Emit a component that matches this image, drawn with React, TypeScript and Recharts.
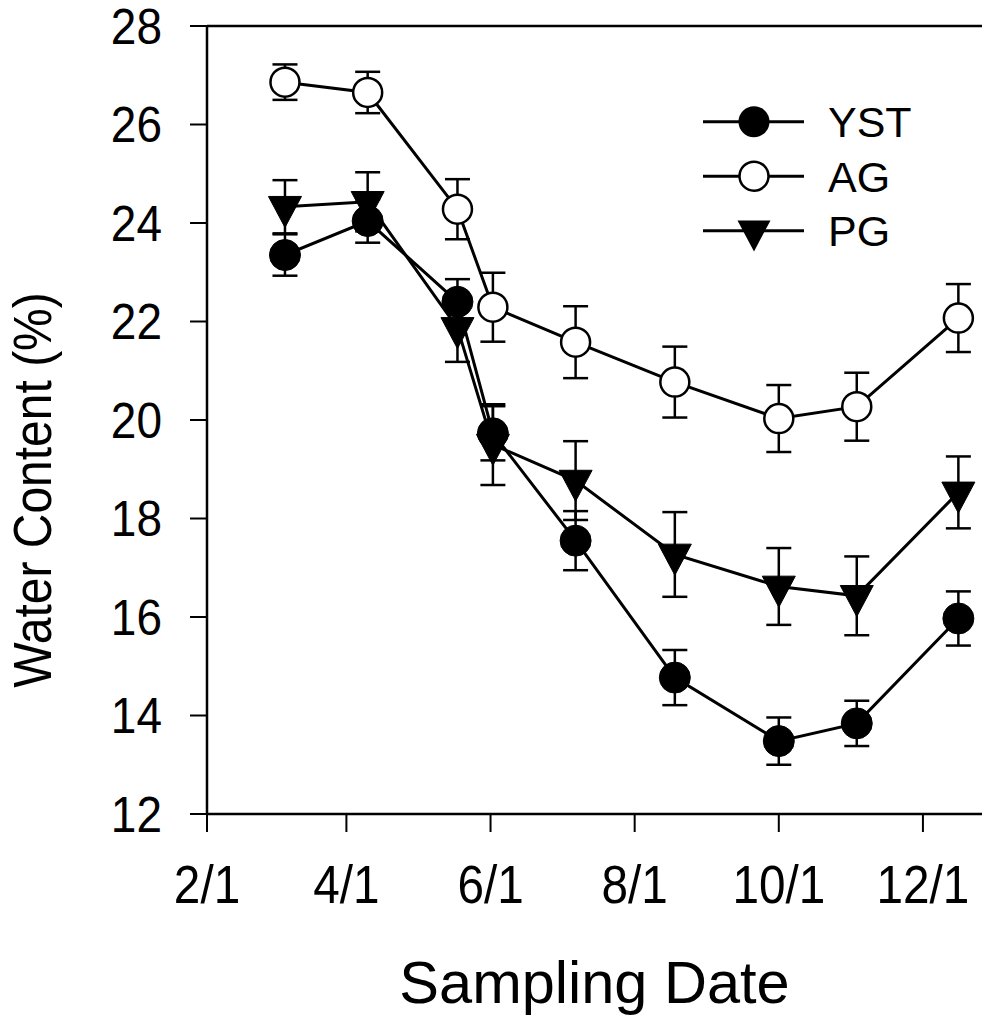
import { ComposedChart, Line, XAxis, YAxis, ErrorBar, ReferenceLine, Label } from "recharts";

// sampling dates as day of year
const sampleDays = [65, 100, 138, 153, 188, 230, 274, 307, 350];
const yst = [23.35, 24.04, 22.4, 19.73, 17.55, 14.77, 13.48, 13.84, 15.97];
const ystErr = [0.42, 0.44, 0.46, 0.55, 0.6, 0.56, 0.48, 0.46, 0.55];
const ag = [26.86, 26.65, 24.28, 22.29, 21.58, 20.77, 20.03, 20.27, 22.07];
const agErr = [0.36, 0.42, 0.61, 0.7, 0.73, 0.72, 0.68, 0.69, 0.69];
const pg = [24.33, 24.43, 21.87, 19.5, 18.77, 17.27, 16.62, 16.43, 18.53];
const pgErr = [0.54, 0.6, 0.69, 0.82, 0.8, 0.86, 0.78, 0.8, 0.73];

const xTicks = [32, 91, 152, 213, 274, 335];
const xTickLabels = ["2/1", "4/1", "6/1", "8/1", "10/1", "12/1"];
const yTicks = [12, 14, 16, 18, 20, 22, 24, 26, 28];

const font = "'Liberation Sans', Arial, Helvetica, sans-serif";

const data = sampleDays.map((day, i) => ({
  day, yst: yst[i], ystErr: ystErr[i], ag: ag[i], agErr: agErr[i], pg: pg[i], pgErr: pgErr[i],
}));

const R = 15.5;

function FilledDot(p: any) {
  return <circle key={`y${p.index}`} cx={p.cx} cy={p.cy} r={R} fill="#000" stroke="#000" strokeWidth={1} />;
}
function OpenDot(p: any) {
  return <circle key={`a${p.index}`} cx={p.cx} cy={p.cy} r={R - 1} fill="#fff" stroke="#000" strokeWidth={2.5} />;
}
function Tri(p: any) {
  const { cx, cy } = p;
  return <path key={`p${p.index}`} d={`M${cx - 16.5},${cy - 10.3} L${cx + 16.5},${cy - 10.3} L${cx},${cy + 20.7} Z`} fill="#000" stroke="#000" strokeWidth={1} />;
}

// the original type is a little narrower than Arial
function XTick(p: any) {
  const { x, y, payload } = p;
  return (
    <text transform={`translate(${x},${y}) scale(0.9,1)`} textAnchor="middle" dy="0.71em" fontSize={53} fontFamily={font} fill="#000">
      {xTickLabels[xTicks.indexOf(payload.value)] ?? ""}
    </text>
  );
}
function YTick(p: any) {
  const { x, y, payload } = p;
  return (
    <text transform={`translate(${x},${y}) scale(0.92,1)`} textAnchor="end" dy="0.355em" fontSize={50} fontFamily={font} fill="#000">
      {payload.value}
    </text>
  );
}

function LegendBox() {
  const rows = [
    { name: "YST", mark: (x: number, y: number) => <circle cx={x} cy={y} r={R} fill="#000" /> },
    { name: "AG", mark: (x: number, y: number) => <circle cx={x} cy={y} r={R - 1} fill="#fff" stroke="#000" strokeWidth={2.5} /> },
    { name: "PG", mark: (x: number, y: number) => <path d={`M${x - 16.5},${y - 10.3} L${x + 16.5},${y - 10.3} L${x},${y + 20.7} Z`} fill="#000" /> },
  ];
  return (
    <svg width={280} height={170} style={{ position: "absolute", left: 700, top: 94 }}>
      {rows.map((r, i) => {
        const y = 27.7 + i * 54.5;
        return (
          <g key={r.name}>
            <line x1={3} x2={104} y1={y} y2={y} stroke="#000" strokeWidth={3} />
            {r.mark(54, y)}
            <text x={128} y={y} dy="0.36em" fontSize={43} fontFamily={font} fill="#000">{r.name}</text>
          </g>
        );
      })}
    </svg>
  );
}

export default function App() {
  return (
    <div style={{ position: "absolute", left: 0, top: 0, width: 982, height: 1018, overflow: "hidden", background: "#fff" }}>
      <ComposedChart width={982} height={1018} data={data} margin={{ top: 26, right: 0, bottom: 0, left: 0 }}>
        <XAxis
          type="number" dataKey="day" domain={[32, 360]} ticks={xTicks} interval={0} allowDataOverflow
          height={204} tickSize={18} tickMargin={33}
          axisLine={{ stroke: "#000", strokeWidth: 2.5 }} tickLine={{ stroke: "#000", strokeWidth: 2 }}
          tick={<XTick />}
        >
          <Label content={() => (
            <text x={594.5} y={1003} textAnchor="middle" fontSize={59.5} fontFamily={font} fill="#000">Sampling Date</text>
          )} />
        </XAxis>
        <YAxis
          type="number" domain={[12, 28]} ticks={yTicks} interval={0}
          width={207} tickSize={17} tickMargin={28}
          axisLine={{ stroke: "#000", strokeWidth: 2.5 }} tickLine={{ stroke: "#000", strokeWidth: 2 }}
          tick={<YTick />}
        >
          <Label content={() => (
            <text transform="translate(51,490) rotate(-90) scale(1,1.1)" textAnchor="middle" fontSize={48} fontFamily={font} fill="#000">Water Content (%)</text>
          )} />
        </YAxis>
        <ReferenceLine y={28} stroke="#000" strokeWidth={2.5} />
        <Line type="linear" dataKey="yst" stroke="#000" strokeWidth={3} dot={FilledDot} activeDot={false} isAnimationActive={false}>
          <ErrorBar dataKey="ystErr" width={12.5} strokeWidth={2.5} stroke="#000" />
        </Line>
        <Line type="linear" dataKey="ag" stroke="#000" strokeWidth={3} dot={OpenDot} activeDot={false} isAnimationActive={false}>
          <ErrorBar dataKey="agErr" width={12.5} strokeWidth={2.5} stroke="#000" />
        </Line>
        <Line type="linear" dataKey="pg" stroke="#000" strokeWidth={3} dot={Tri} activeDot={false} isAnimationActive={false}>
          <ErrorBar dataKey="pgErr" width={12.5} strokeWidth={2.5} stroke="#000" />
        </Line>
      </ComposedChart>
      <LegendBox />
    </div>
  );
}
